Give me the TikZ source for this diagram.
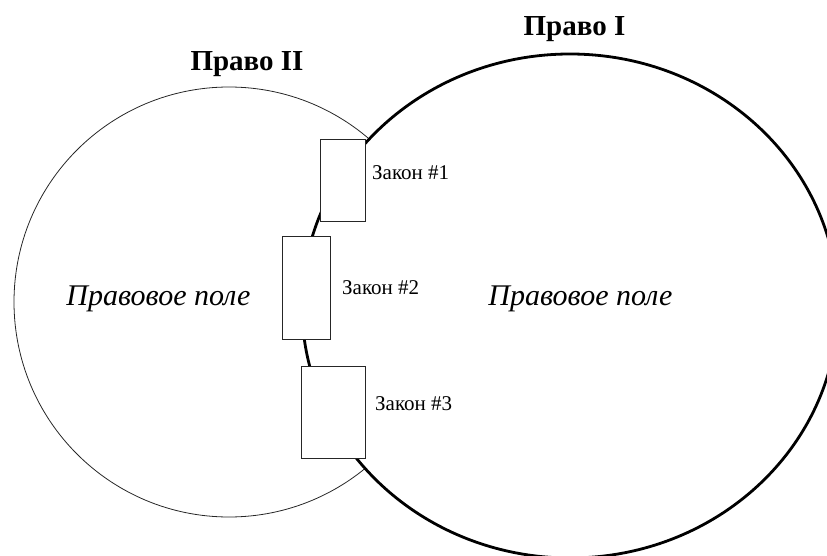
\documentclass[tikz,border=0pt]{standalone}
\usepackage{fontspec}
\setmainfont{Liberation Serif}
\begin{document}
\begin{tikzpicture}[x=1pt,y=-1pt,
  law/.style={rectangle,draw=black!85,fill=white,line width=0.8pt,inner sep=0pt},
  lawname/.style={anchor=base west,inner sep=0pt,font=\fontsize{21}{25}\selectfont},
  field/.style={anchor=base,inner sep=0pt,font=\fontsize{30}{34}\selectfont\itshape},
  title/.style={anchor=base,inner sep=0pt,font=\fontsize{29}{33}\selectfont\bfseries}]
   \useasboundingbox (0,0) rectangle (827,556);
   \draw[line width=0.8pt,black!85] (229,302) circle (215pt);
   \draw[line width=2.8pt,fill=white] (570,306) ellipse (268pt and 252pt);
   \foreach \n/\x/\y/\w/\h/\lx/\ly in
     {1/342.5/180/45/82/372/180,
      2/306/287.5/48/103/342/294,
      3/333/412/64/92/375/410}
   {
     \node[law,minimum width=\w pt,minimum height=\h pt] (zakon\n) at (\x,\y) {};
     \node[lawname] (label\n) at (\lx,\ly) {Закон \#\n};
   }
   \node[title] (pravoII) at (247,71) {Право II};
   \node[title] (pravoI) at (574.5,36) {Право I};
   \node[field] (poleII) at (158.5,305) {Правовое поле};
   \node[field] (poleI) at (580.5,305) {Правовое поле};
\end{tikzpicture}
\end{document}
